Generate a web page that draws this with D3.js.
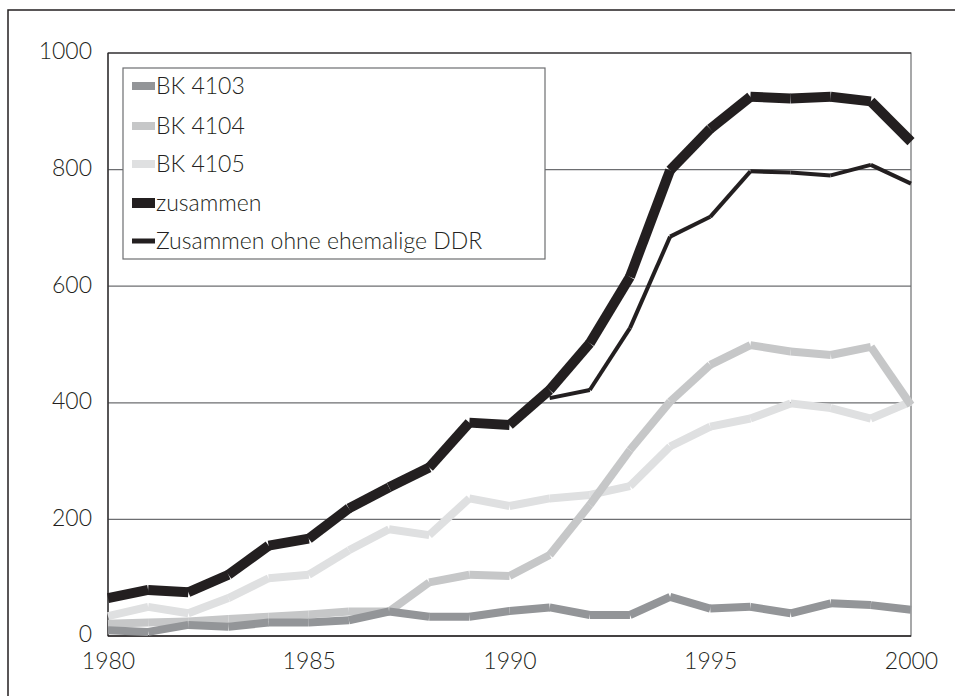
<!DOCTYPE html>
<html>
<head>
<meta charset="utf-8">
<script src="https://cdn.jsdelivr.net/npm/d3@7"></script>
<style>
  body { margin: 0; background: #fff; }
  svg text { font-family: Lato, "Noto Sans", sans-serif; font-weight: 300; fill: #231f20; }
</style>
</head>
<body>
<div id="chart"></div>
<script>
const years = d3.range(1980, 2001);
const bk4103 = [10, 7, 19, 16, 23, 23, 27, 42, 33, 33, 43, 49, 36, 36, 67, 47, 50, 39, 56, 53, 45];
const bk4104 = [21, 23, 25, 29, 33, 37, 42, 42, 92, 105, 103, 139, 225, 319, 402, 465, 499, 488, 482, 496, 396];
const bk4105 = [34, 50, 39, 65, 99, 105, 147, 183, 173, 236, 223, 236, 242, 257, 325, 359, 373, 399, 391, 373, 402];
const zusammen = [65, 79, 75, 105, 155, 167, 219, 255, 289, 366, 362, 422, 502, 616, 799, 870, 925, 922, 925, 917, 848];
const ohneDDR = [null, null, null, null, null, null, null, null, null, null, null, 408, 422, 528, 685, 719, 797, 795, 790, 808, 776];
const yTicks = [0, 200, 400, 600, 800, 1000];
const xTicks = [1980, 1985, 1990, 1995, 2000];

const series = [
  { name: "BK 4103", values: bk4103, color: "#939598", width: 8, swatch: 8 },
  { name: "BK 4104", values: bk4104, color: "#c6c7c8", width: 8, swatch: 8 },
  { name: "BK 4105", values: bk4105, color: "#dfe0e1", width: 8, swatch: 8 },
  { name: "zusammen", values: zusammen, color: "#231f20", width: 10, swatch: 10 },
  { name: "Zusammen ohne ehemalige DDR", values: ohneDDR, color: "#231f20", width: 4, swatch: 5 }
];

const W = 955, H = 696;
const margin = { top: 53, right: 44, bottom: 60, left: 108 };
const width = 911 - margin.left;
const height = 636 - margin.top;

const svg = d3.select("#chart").append("svg")
  .attr("width", W)
  .attr("height", H);

// outer frame (only top and left edges show)
svg.append("rect")
  .attr("x", 8).attr("y", 10)
  .attr("width", W + 20).attr("height", H + 20)
  .attr("fill", "none")
  .attr("stroke", "#231f20")
  .attr("stroke-width", 1.5);

const g = svg.append("g")
  .attr("transform", `translate(${margin.left},${margin.top})`);

const x = d3.scaleLinear().domain([1980, 2000]).range([0, width]);
const y = d3.scaleLinear().domain([0, 1000]).range([height, 0]);

// gridlines
g.append("g")
  .selectAll("line")
  .data(yTicks.filter(d => d > 0 && d < 1000))
  .enter().append("line")
  .attr("x1", 0).attr("x2", width)
  .attr("y1", d => y(d)).attr("y2", d => y(d))
  .attr("stroke", "#6d6e71")
  .attr("stroke-width", 1.2);

// plot frame
g.append("rect")
  .attr("x", 0).attr("y", 0)
  .attr("width", width).attr("height", height)
  .attr("fill", "none")
  .attr("stroke", "#6d6e71")
  .attr("stroke-width", 1.2);
g.append("line")
  .attr("x1", 0).attr("x2", width)
  .attr("y1", height).attr("y2", height)
  .attr("stroke", "#231f20").attr("stroke-width", 1.5);
g.append("line")
  .attr("x1", 0).attr("x2", width)
  .attr("y1", 0).attr("y2", 0)
  .attr("stroke", "#231f20").attr("stroke-width", 1.2);
g.append("line")
  .attr("x1", 0).attr("x2", 0)
  .attr("y1", 0).attr("y2", height)
  .attr("stroke", "#231f20").attr("stroke-width", 1.2);

// axes labels
const yAxis = g.append("g")
  .call(d3.axisLeft(y).tickValues(yTicks).tickSize(0).tickPadding(16).tickFormat(d3.format("d")));
yAxis.select(".domain").remove();
yAxis.selectAll("text")
  .attr("dy", "0.26em")
  .style("font-size", "23px");

const xAxis = g.append("g")
  .attr("transform", `translate(0,${height})`)
  .call(d3.axisBottom(x).tickValues(xTicks).tickSize(0).tickPadding(17).tickFormat(d3.format("d")));
xAxis.select(".domain").remove();
xAxis.selectAll("text")
  .style("font-size", "23px");

// legend box
const legend = svg.append("g");
legend.append("rect")
  .attr("x", 123).attr("y", 68)
  .attr("width", 422).attr("height", 191)
  .attr("fill", "#fff")
  .attr("stroke", "#6d6e71")
  .attr("stroke-width", 1.2);

// lines drawn segment by segment with butt caps
const line = d3.line()
  .x(d => x(d.year))
  .y(d => y(d.value));

const drawOrder = [2, 1, 0, 4, 3];
drawOrder.forEach(i => {
  const s = series[i];
  const pts = years.map((yr, j) => ({ year: yr, value: s.values[j] }));
  const segs = [];
  for (let j = 0; j < pts.length - 1; j++) {
    if (pts[j].value != null && pts[j + 1].value != null) segs.push([pts[j], pts[j + 1]]);
  }
  g.append("g")
    .selectAll("path")
    .data(segs)
    .enter().append("path")
    .attr("d", line)
    .attr("fill", "none")
    .attr("stroke", s.color)
    .attr("stroke-width", s.width)
    .attr("stroke-linecap", "butt");
});

// legend entries
const rowY = [86, 126, 164, 203, 241];
series.forEach((s, i) => {
  legend.append("rect")
    .attr("x", 132)
    .attr("y", rowY[i] - s.swatch / 2)
    .attr("width", 23)
    .attr("height", s.swatch)
    .attr("fill", s.color);
  legend.append("text")
    .attr("x", 156)
    .attr("y", rowY[i])
    .attr("dy", "0.36em")
    .style("font-size", "23px")
    .text(s.name);
});
</script>
</body>
</html>
